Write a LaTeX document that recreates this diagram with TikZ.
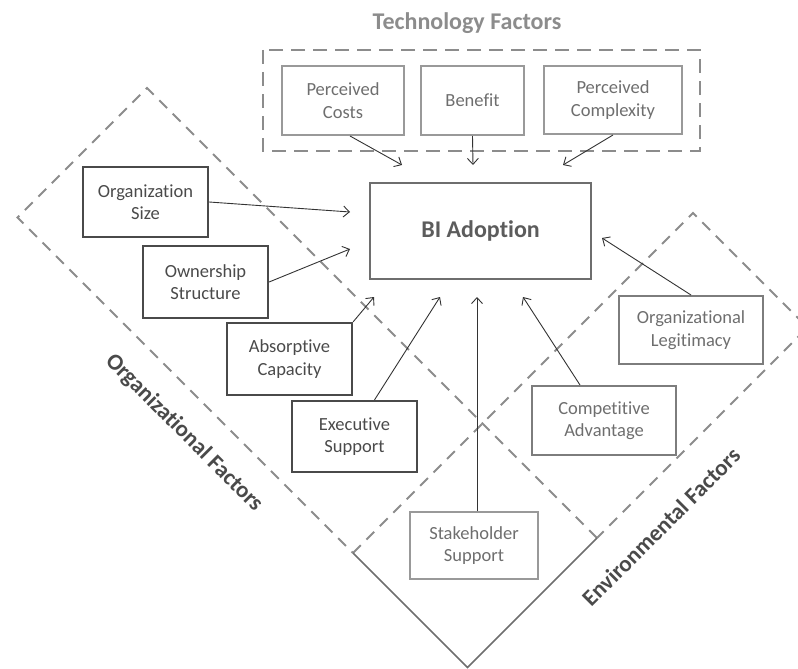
\documentclass[tikz,border=0pt]{standalone}
\usepackage{fontspec}
\setmainfont{Carlito}[Ligatures={NoCommon}]
\usetikzlibrary{arrows.meta}
\definecolor{dk}{HTML}{4A4A4A}
\definecolor{md}{HTML}{6E6E6E}
\definecolor{lt}{HTML}{999999}
\definecolor{dashc}{HTML}{8C8C8C}
\definecolor{arr}{HTML}{333333}
\tikzset{
  boxfont/.style={font=\fontsize{18.5}{22.5}\selectfont, align=center},
  orgbox/.style={boxfont, draw=dk, line width=2.2pt, text=dk, inner sep=0pt, minimum width=#1},
  envbox/.style={boxfont, draw=md!90, line width=2pt, text=md, inner sep=0pt, minimum width=#1},
  techbox/.style={boxfont, draw=lt, line width=2pt, text=md, inner sep=0pt, minimum width=#1},
  diagdash/.style={draw=dashc, line width=2pt, dash pattern=on 11pt off 8pt},
  techdash/.style={draw=dashc, line width=2.2pt, dash pattern=on 14pt off 8pt},
  conn/.style={draw=arr, line width=0.9pt, -{Straight Barb[length=6pt,width=11pt]}},
  grouplabel/.style={font=\fontsize{23}{27}\selectfont\bfseries, text=#1, inner sep=0pt}
}
\begin{document}
\begin{tikzpicture}[x=1pt, y=-1pt]
\useasboundingbox (0,0) rectangle (798,669);

% group outlines
\draw[diagdash] (597,538) -- (147,88) -- (17.5,217.5) -- (353,553);
\draw[diagdash] (353,553) -- (693,213) -- (807.5,327.5) -- (597,538);
\draw[draw=md, line width=1.6pt] (353,553) -- (467.5,667.5) -- (597,538);
\draw[techdash] (263,50) rectangle (700,151);

% group labels
\node[grouplabel=dashc, font=\fontsize{24}{28}\selectfont\bfseries] (techl) at (467,23) {Technology Factors};
\node[grouplabel=dk, rotate=-45] (orgl) at (184,433) {Organizational Factors};
\node[grouplabel=dk, rotate=45] (envl) at (661,527) {Environmental Factors};

% central box
\node[draw=md, line width=2.4pt, minimum width=221pt, minimum height=96pt, inner sep=0pt,
      font=\fontsize{24}{28}\selectfont\bfseries, text=dk!90] (bi) at (480.5,231) {BI Adoption};

% technology
\node[techbox=122pt, minimum height=69pt] (pc) at (343,100.5) {Perceived\\Costs};
\node[techbox=103pt, minimum height=69pt] (be) at (472.5,100.5) {Benefit};
\node[techbox=138pt, minimum height=68pt] (cx) at (613,100) {Perceived\\Complexity};

% organizational
\node[orgbox=125pt, minimum height=70pt] (os) at (145.5,202) {Organization\\Size};
\node[orgbox=125pt, minimum height=72pt] (ow) at (205.5,282) {Ownership\\Structure};
\node[orgbox=125pt, minimum height=72pt] (ab) at (289.5,359) {Absorptive\\Capacity};
\node[orgbox=125pt, minimum height=71pt] (ex) at (354.5,436.5) {Executive\\Support};

% environmental / stakeholder
\node[techbox=128pt, minimum height=67pt] (st) at (474,545.5) {Stakeholder\\Support};
\node[envbox=144pt, minimum height=68pt] (ol) at (691,330) {Organizational\\Legitimacy};
\node[envbox=144pt, minimum height=69pt] (ca) at (604,420.5) {Competitive\\Advantage};

% arrow tips
\coordinate (t1) at (402,165);
\coordinate (t2) at (473,165);
\coordinate (t3) at (563,165);
\coordinate (t4) at (350,212);
\coordinate (t5) at (350,249);
\coordinate (t6) at (374,297);
\coordinate (t7) at (440,297);
\coordinate (t8) at (477,297);
\coordinate (t9) at (523,297);
\coordinate (t10) at (602,238);

\draw[conn] ([xshift=7pt]pc.south) -- (t1);
\draw[conn] (be.south) -- (t2);
\draw[conn] (cx.south) -- (t3);
\draw[conn] (os.east) -- (t4);
\draw[conn] (ow.east) -- (t5);
\draw[conn] (ab.north east) -- (t6);
\draw[conn] ([xshift=20pt]ex.north) -- (t7);
\draw[conn] ([xshift=3pt]st.north) -- (t8);
\draw[conn] ([xshift=-24pt]ca.north) -- (t9);
\draw[conn] (ol.north) -- (t10);
\end{tikzpicture}
\end{document}
